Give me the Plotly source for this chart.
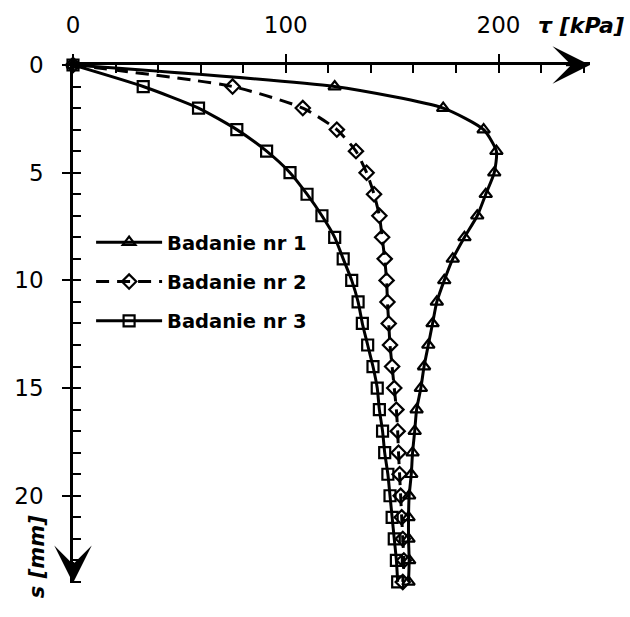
import plotly.graph_objects as go

s_mm = list(range(0, 25))
tau_1 = [0, 123, 174, 193, 199, 198, 194, 190, 184, 178.5, 174.5, 171, 169, 167, 165, 163.5,
         161.5, 160.6, 159.6, 159, 158, 157.7, 157.7, 158, 157.7]
tau_2 = [0, 75, 108, 124, 133, 138, 141.5, 144, 145.3, 146.5, 147.4, 147.8, 148.4, 149, 150, 151,
         152, 152.6, 153, 153.5, 154, 154.5, 155, 155.5, 155]
tau_3 = [0, 33, 59, 77, 91, 102, 110, 117, 123, 127, 131, 134, 136, 138.5, 141, 143,
         144, 145.5, 146.5, 148, 149, 150, 151, 152, 152.6]
names = ["Badanie nr 1", "Badanie nr 2", "Badanie nr 3"]
x_ticks = [0, 100, 200]
y_ticks = [0, 5, 10, 15, 20]
x_max = 243
y_max = 24

fig = go.Figure()
series = [
    (tau_1, names[0], "triangle-up-open", "solid"),
    (tau_2, names[1], "diamond-open", "13px,8px"),
    (tau_3, names[2], "square-open", "solid"),
]
for i, (vals, nm, sym, dash) in enumerate(series):
    fig.add_trace(go.Scatter(
        x=vals, y=s_mm, name=nm, mode="lines+markers",
        line=dict(color="black", width=3, shape="spline", smoothing=0.6, dash=dash),
        marker=dict(symbol=sym, size=11, color="black", line=dict(width=2.2, color="black")),
        cliponaxis=False, legendgroup=str(i),
    ))

fnt = "DejaVu Sans, Verdana, sans-serif"
PW = 630 - 73 - 40
PH = 617 - 62 - 34
fig.update_layout(
    width=630, height=617,
    margin=dict(l=73, r=40, t=62, b=34),
    plot_bgcolor="white", paper_bgcolor="white",
    showlegend=True,
    legend=dict(x=0.035, y=0.695, xanchor="left", yanchor="top",
                font=dict(family=fnt, size=19.5, color="black", weight="bold"),
                itemwidth=66, tracegroupgap=11, bgcolor="rgba(0,0,0,0)"),
    xaxis=dict(range=[0, x_max], side="top", showgrid=False, zeroline=False,
               showline=True, linecolor="black", linewidth=2.5,
               tickmode="array", tickvals=x_ticks, ticks="outside", ticklen=8,
               tickwidth=2, tickcolor="black", ticklabelstandoff=12,
               tickfont=dict(family=fnt, size=23, color="black"),
               minor=dict(dtick=20, tick0=0, ticks="inside", ticklen=8, tickwidth=2,
                          tickcolor="black", showgrid=False)),
    yaxis=dict(range=[y_max + 0.05, 0], showgrid=False, zeroline=False,
               showline=True, linecolor="black", linewidth=2.5,
               tickmode="array", tickvals=y_ticks, ticks="outside", ticklen=8,
               tickwidth=2, tickcolor="black", ticklabelstandoff=14,
               tickfont=dict(family=fnt, size=23, color="black"),
               minor=dict(dtick=1, tick0=0, ticks="inside", ticklen=8, tickwidth=2,
                          tickcolor="black", showgrid=False)),
)

# arrowheads at the axis ends
fig.add_annotation(x=x_max, y=0, ax=x_max - 12, ay=0, xref="x", yref="y", axref="x", ayref="y",
                   text="", showarrow=True, arrowhead=3, arrowsize=2.5, arrowwidth=2.5,
                   arrowcolor="black")
fig.add_annotation(x=0, y=y_max + 0.05, ax=0, ay=y_max - 1, xref="x", yref="y", axref="x", ayref="y",
                   text="", showarrow=True, arrowhead=3, arrowsize=2.5, arrowwidth=2.5,
                   arrowcolor="black")
# axis titles
fig.add_annotation(text="<b><i>τ [kPa]</i></b>", xref="x domain", yref="y domain",
                   x=(626 - 73) / PW, y=1 + 40 / PH, showarrow=False,
                   xanchor="right", yanchor="middle",
                   font=dict(family=fnt, size=22, color="black"))
fig.add_annotation(text="<b><i>s [mm]</i></b>", xref="x domain", yref="y domain",
                   x=-(73 - 37) / PW, y=(583 - 557) / PH,
                   showarrow=False, textangle=-90, xanchor="center", yanchor="middle",
                   font=dict(family=fnt, size=21, color="black"))

fig.write_html("out.html")
